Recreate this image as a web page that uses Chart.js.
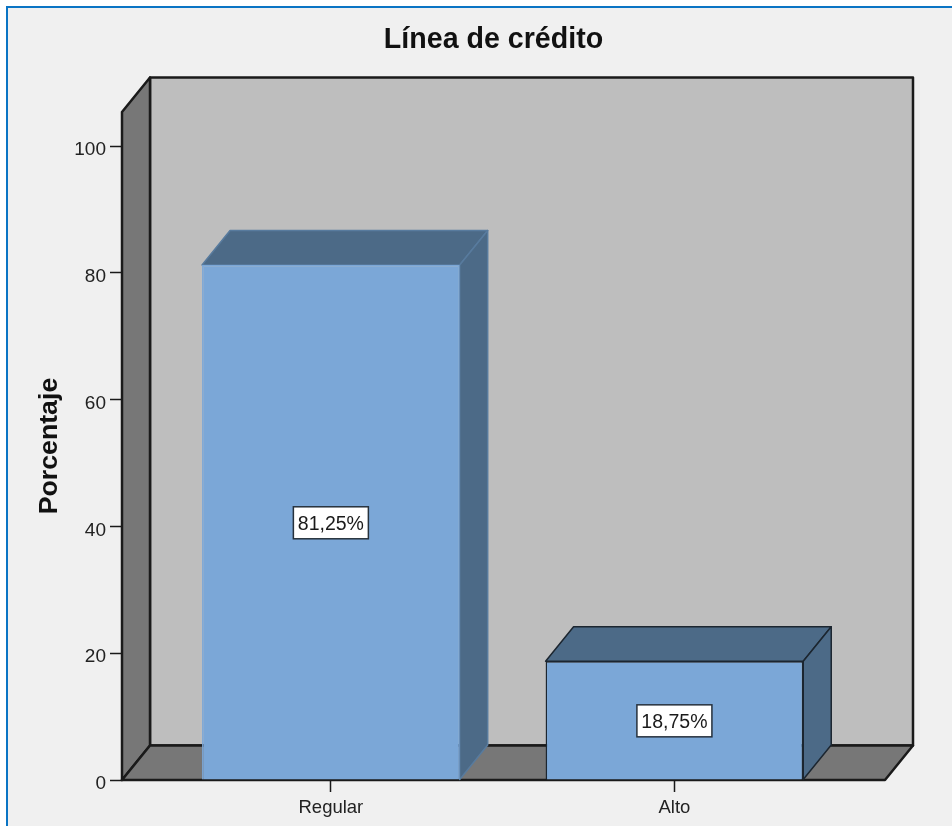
<!DOCTYPE html>
<html>
<head>
<meta charset="utf-8">
<title>Línea de crédito</title>
<script src="https://cdn.jsdelivr.net/npm/chart.js@4/dist/chart.umd.min.js"></script>
<style>
  html, body { margin: 0; padding: 0; background: #fff; overflow: hidden; }
  #frame { position: absolute; left: 6px; top: 6px; right: 0; bottom: 0; background: #f0f0f0;
           border-left: 2px solid #0a74c4; border-top: 2px solid #0a74c4; }
  #chart { position: absolute; left: 0; top: 0; display: block; }
</style>
</head>
<body>
<div id="frame"></div>
<canvas id="chart" width="952" height="826"></canvas>
<script>
const categories = ['Regular', 'Alto'];
const percentages = [81.25, 18.75];
const yTicks = [0, 20, 40, 60, 80, 100];
const barEdges = ['#7ba7d7', '#1c2630'];
const sideEdges = ['#587b9e', '#1c2630'];

const FONT = '"Liberation Sans", Arial, sans-serif';
const DEPTH_X = 28;
const DEPTH_Y = 34.5;

function poly(ctx, pts, fill, stroke, width) {
  ctx.beginPath();
  pts.forEach((p, i) => i ? ctx.lineTo(p[0], p[1]) : ctx.moveTo(p[0], p[1]));
  ctx.closePath();
  ctx.fillStyle = fill;
  ctx.fill();
  if (stroke) {
    ctx.strokeStyle = stroke;
    ctx.lineWidth = width;
    ctx.lineJoin = 'round';
    ctx.stroke();
  }
}

// fake 3d box: walls and floor behind the bars, then the bar sides
const box3d = {
  id: 'box3d',
  afterLayout(chart) {
    // the title sits a little left of the plot centre
    chart.titleBlock.left = 102;
  },
  beforeDatasetsDraw(chart) {
    const { ctx, chartArea: a } = chart;
    const dx = DEPTH_X, dy = DEPTH_Y;
    ctx.save();
    poly(ctx, [[a.left + dx, a.top - dy], [a.right + dx, a.top - dy], [a.right + dx, a.bottom - dy], [a.left + dx, a.bottom - dy]], '#bebebe', '#1a1a1a', 2.5);
    poly(ctx, [[a.left, a.top], [a.left + dx, a.top - dy], [a.left + dx, a.bottom - dy], [a.left, a.bottom]], '#777777', '#1a1a1a', 2.5);
    poly(ctx, [[a.left, a.bottom], [a.left + dx, a.bottom - dy], [a.right + dx, a.bottom - dy], [a.right, a.bottom]], '#777777', '#1a1a1a', 2.5);
    chart.getDatasetMeta(0).data.forEach((bar, i) => {
      const p = bar.getProps(['x', 'y', 'base', 'width']);
      const l = p.x - p.width / 2, r = p.x + p.width / 2;
      const edge = sideEdges[i];
      poly(ctx, [[l, p.y], [l + dx, p.y - dy], [r + dx, p.y - dy], [r, p.y]], '#4c6a87', edge, 1.5);
      poly(ctx, [[r, p.y], [r + dx, p.y - dy], [r + dx, p.base - dy], [r, p.base]], '#4c6a87', edge, 1.5);
    });
    ctx.restore();
  },
  afterDatasetsDraw(chart) {
    const { ctx } = chart;
    ctx.save();
    ctx.font = '19.5px ' + FONT;
    ctx.textAlign = 'center';
    ctx.textBaseline = 'middle';
    chart.getDatasetMeta(0).data.forEach((bar, i) => {
      const p = bar.getProps(['x', 'y', 'base']);
      const cy = (p.y + p.base) / 2 + 0.5;
      ctx.fillStyle = '#ffffff';
      ctx.strokeStyle = '#26313c';
      ctx.lineWidth = 1.5;
      ctx.fillRect(p.x - 37.5, cy - 16, 75, 32);
      ctx.strokeRect(p.x - 37.5, cy - 16, 75, 32);
      ctx.fillStyle = '#1a1a1a';
      ctx.fillText(percentages[i].toFixed(2).replace('.', ',') + '%', p.x, cy + 1.5);
    });
    ctx.restore();
  }
};

new Chart(document.getElementById('chart'), {
  type: 'bar',
  data: {
    datasets: [{
      data: percentages.map((v, i) => ({ x: i, y: v })),
      backgroundColor: '#7ba7d7',
      borderColor: barEdges,
      borderWidth: 1.5,
      barPercentage: 0.75,
      categoryPercentage: 1
    }]
  },
  options: {
    responsive: false,
    animation: false,
    layout: { padding: { left: 0, right: 67, top: 0, bottom: 0 } },
    plugins: {
      legend: { display: false },
      tooltip: { enabled: false },
      title: {
        display: true,
        text: 'Línea de crédito',
        color: '#111111',
        font: { family: FONT, size: 28.6, weight: 'bold' },
        padding: { top: 23, bottom: 54.7 }
      }
    },
    scales: {
      x: {
        type: 'linear',
        offset: false,
        min: -0.608,
        max: 1.613,
        afterBuildTicks(scale) { scale.ticks = categories.map((c, i) => ({ value: i })); },
        afterFit(scale) { scale.height = 46; },
        border: { display: false },
        grid: { offset: false, drawOnChartArea: false, tickLength: 12, tickColor: '#1a1a1a', tickWidth: 1.5 },
        ticks: {
          callback: v => categories[v],
          color: '#222222',
          padding: 5,
          maxRotation: 0,
          font: { family: FONT, size: 18.5 }
        }
      },
      y: {
        min: 0,
        max: 105.4,
        afterBuildTicks(scale) { scale.ticks = yTicks.map(v => ({ value: v })); },
        afterFit(scale) { scale.width = 122; },
        border: { display: false },
        grid: { drawOnChartArea: false, tickLength: 12, tickColor: '#1a1a1a', tickWidth: 1.5 },
        ticks: {
          color: '#222222',
          padding: 4,
          labelOffset: 4,
          font: { family: FONT, size: 19 }
        },
        title: {
          display: true,
          text: 'Porcentaje',
          color: '#111111',
          font: { family: FONT, size: 26.7, weight: 'bold' },
          padding: { top: 34, bottom: 0 }
        }
      }
    }
  },
  plugins: [box3d]
});
</script>
</body>
</html>
